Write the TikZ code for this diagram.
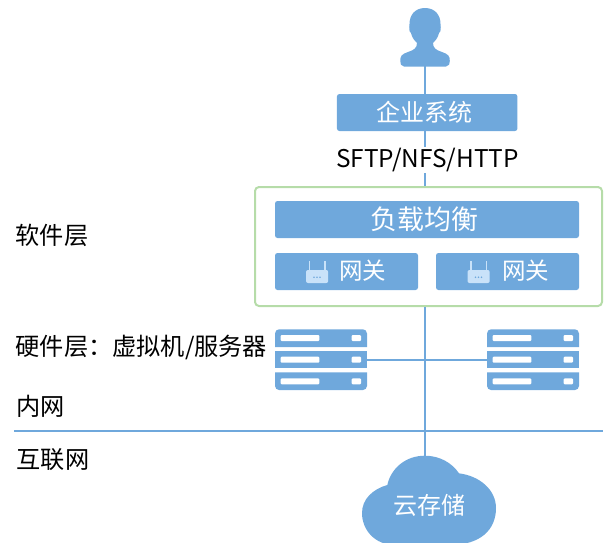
\documentclass[tikz,border=0pt]{standalone}
\usepackage{fontspec}
\setmainfont{Noto Sans CJK SC}
\definecolor{bluefill}{HTML}{6FA8DC}
\definecolor{boxgreen}{HTML}{B6DCA9}
\definecolor{iconblue}{HTML}{C9E2F9}
\tikzset{
  bluebox/.style={fill=bluefill,draw=none,rounded corners=2.5pt,inner sep=0pt,text=white},
  link/.style={draw=bluefill,line width=1.9pt},
  tierlabel/.style={anchor=west,inner sep=0pt,font=\fontsize{24.2}{26}\selectfont,text=black},
  slab/.style={fill=bluefill,draw=none,minimum width=92pt,minimum height=17.5pt,inner sep=0pt},
  whitebar/.style={fill=white,rounded corners=1pt},
  antenna/.style={draw=iconblue,line width=1.9pt},
}
\begin{document}
\begin{tikzpicture}[x=1pt,y=-1pt]
\useasboundingbox (0,0) rectangle (605,542);
\clip (0,0) rectangle (605,542);
\coordinate (user) at (424.7,66);
\coordinate (cloudtop) at (424.7,456);
\coordinate (netW) at (14,431);
\coordinate (netE) at (603,431);

% connectors
\node[bluebox,minimum width=180.5pt,minimum height=37pt] (sys) at (427.2,112.5) {};
\node[inner sep=0pt,text=white,font=\fontsize{24}{26}\selectfont] (syst) at (424,112.5) {企业系统};
\node[draw=boxgreen,line width=2pt,rounded corners=4pt,minimum width=347pt,minimum height=119pt,inner sep=0pt] (soft) at (428.5,246.5) {};
\draw[link] (user) -- (sys.north -| user);
\draw[link] (sys.south -| user) -- (soft.north -| user);
\draw[link] (soft.south -| user) -- (cloudtop);
\draw[link] (netW) -- (netE);

\node[fill=white,inner sep=1pt,font=\fontsize{24.4}{26}\selectfont] (proto) at (427.5,160) {SFTP/NFS/HTTP};

% person
\fill[bluefill] (425,8)
  .. controls (415,8) and (409.5,15) .. (409.5,24)
  .. controls (409,28) and (409,32) .. (411,33)
  .. controls (412,38) and (415,41) .. (417,43)
  .. controls (417,48) and (414,50) .. (408,52)
  .. controls (402,54) and (400,56) .. (400.3,61)
  .. controls (400,64) and (401,66) .. (404,66.5)
  -- (446,66.5)
  .. controls (449,66) and (450,64) .. (449.8,61)
  .. controls (450,56) and (448,54) .. (442,52)
  .. controls (436,50) and (433,48) .. (433,43)
  .. controls (435,41) and (438,38) .. (439,33)
  .. controls (441,32) and (441,28) .. (440.5,24)
  .. controls (440.5,15) and (435,8) .. (425,8) -- cycle;

% load balancer and gateways
\node[bluebox,minimum width=304pt,minimum height=37pt] (lb) at (427,219.5) {};
\node[inner sep=0pt,text=white,font=\fontsize{27}{30}\selectfont] (lbt) at (424,219.5) {负载均衡};
\node[bluebox,minimum width=143pt,minimum height=37pt] (gw1) at (346.5,271.5) {};
\node[bluebox,minimum width=143pt,minimum height=37pt] (gw2) at (507.5,271.5) {};
\node[inner sep=0pt,text=white,font=\fontsize{23.5}{26}\selectfont] (gw1t) at (362.5,271) {网关};
\node[inner sep=0pt,text=white,font=\fontsize{23.5}{26}\selectfont] (gw2t) at (525.5,271) {网关};
\foreach \ox in {0,161.5}{
  \begin{scope}[xshift=\ox pt]
  \draw[antenna] (309.5,261) -- (309.5,271);
  \draw[antenna] (325,261) -- (325,271);
  \fill[iconblue,rounded corners=2pt] (306,270) -- (328.2,270) -- (328.2,283) -- (306,283) -- cycle;
  \fill[bluefill] (314,277.3) circle (.9) (317,277.3) circle (.9) (320,277.3) circle (.9);
  \end{scope}
}

% servers
\foreach \n/\cx in {a/321,b/533}{
  \fill[bluefill] (\cx-46,347) -- (\cx-46,333.5)
    .. controls (\cx-46,331) and (\cx-44,329.3) .. (\cx-42,329.3)
    -- (\cx+42,329.3)
    .. controls (\cx+44,329.3) and (\cx+46,331) .. (\cx+46,333.5)
    -- (\cx+46,347) -- cycle;
  \node[slab] (srv\n) at (\cx,359.7) {};
  \fill[bluefill] (\cx-46,372.3) -- (\cx-46,386)
    .. controls (\cx-46,388.3) and (\cx-44,390) .. (\cx-42,390)
    -- (\cx+42,390)
    .. controls (\cx+44,390) and (\cx+46,388.3) .. (\cx+46,386)
    -- (\cx+46,372.3) -- cycle;
  \foreach \y in {335,356.7,378.3}{
    \fill[whitebar] (\cx-40.3,\y) rectangle (\cx-1.7,\y+6);
    \fill[whitebar] (\cx+30.7,\y) rectangle (\cx+40,\y+6);
  }
}
\draw[link] (srva.east) -- (srvb.west);

% cloud
\fill[bluefill] (424.7,455.7)
  .. controls (440,455.7) and (452,463) .. (459,473.3)
  .. controls (480,476) and (496,490) .. (496,508)
  .. controls (496,530) and (480,545) .. (450,545)
  -- (395,545)
  .. controls (375,545) and (362,530) .. (362,513)
  .. controls (362,499) and (373,489) .. (387.3,485)
  .. controls (391,468) and (406,455.7) .. (424.7,455.7) -- cycle;
\node[inner sep=0pt,text=white,font=\fontsize{24}{26}\selectfont] (cloud) at (429,505) {云存储};

% labels
\node[tierlabel] (l1) at (15.5,235) {软件层};
\node[tierlabel] (l2) at (15.5,347) {硬件层：虚拟机/服务器};
\node[tierlabel] (l3) at (16.5,406) {内网};
\node[tierlabel] (l4) at (16.5,460) {互联网};
\end{tikzpicture}
\end{document}
